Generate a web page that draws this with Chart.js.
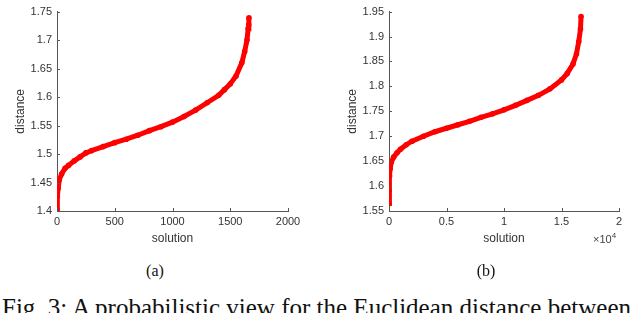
<!DOCTYPE html>
<html>
<head>
<meta charset="utf-8">
<script src="https://cdn.jsdelivr.net/npm/chart.js@4.4.0/dist/chart.umd.min.js"></script>
<style>
  body { margin: 0; background: #fff; width: 640px; height: 313px; overflow: hidden; position: relative; }
  .box { position: absolute; top: 0; height: 250px; }
  .cap { position: absolute; font-family: "Liberation Serif", serif; color: #111; white-space: nowrap; }
</style>
</head>
<body>
<div class="box" style="left:0;width:310px"><canvas id="chartA"></canvas></div>
<div class="box" style="left:320px;width:320px"><canvas id="chartB"></canvas></div>
<div class="cap" style="left:593px;top:231px;font-family:'Liberation Sans',sans-serif;font-size:11px;color:#444">&times;10<sup style="font-size:8px">4</sup></div>
<div class="cap" style="left:130px;width:50px;text-align:center;top:262px;font-size:16px">(a)</div>
<div class="cap" style="left:461px;width:50px;text-align:center;top:262px;font-size:16px">(b)</div>
<div class="cap" style="left:2px;top:294px;font-size:25px">Fig. 3: A probabilistic view for the Euclidean distance between</div>

<script>
// (a) sorted distances
const solA = [0, 3, 10, 20, 40, 70, 100, 150, 200, 250, 300, 400, 500, 600, 700, 800, 900, 1000,
  1100, 1200, 1300, 1400, 1450, 1500, 1550, 1600, 1625, 1645, 1655, 1660, 1662];
const distA = [1.403, 1.425, 1.44, 1.455, 1.465, 1.475, 1.48, 1.488, 1.495, 1.502, 1.506, 1.513, 1.52, 1.526,
  1.533, 1.541, 1.548, 1.556, 1.566, 1.577, 1.59, 1.603, 1.613, 1.623, 1.637, 1.66, 1.68, 1.70, 1.72, 1.727, 1.739];

// (b)
const solB = [0, 20, 50, 100, 200, 400, 700, 1000, 1500, 2000, 3000, 4000, 5000, 6000, 7000, 8000, 9000,
  10000, 11000, 12000, 13000, 14000, 15000, 15500, 16000, 16300, 16500, 16650, 16700];
const distB = [1.565, 1.59, 1.62, 1.635, 1.648, 1.658, 1.667, 1.674, 1.683, 1.69, 1.70, 1.709, 1.716, 1.723,
  1.73, 1.738, 1.745, 1.753, 1.762, 1.772, 1.782, 1.795, 1.813, 1.826, 1.845, 1.865, 1.89, 1.915, 1.94];

const ticksA = { xMax: 2000, xStep: 500, yMin: 1.4, yMax: 1.75, yStep: 0.05 };
const ticksB = { xMax: 20000, xStep: 5000, yMin: 1.55, yMax: 1.95, yStep: 0.05 };

// matlab-like inward ticks
const inwardTicks = {
  id: "inwardTicks",
  afterDraw(chart) {
    const c = chart.ctx, a = chart.chartArea;
    c.save();
    c.strokeStyle = "#555";
    c.lineWidth = 1;
    chart.scales.x.ticks.forEach((t, i) => {
      const px = Math.round(chart.scales.x.getPixelForTick(i)) + 0.5;
      c.beginPath(); c.moveTo(px, a.bottom); c.lineTo(px, a.bottom - 3); c.stroke();
    });
    chart.scales.y.ticks.forEach((t, i) => {
      const py = Math.round(chart.scales.y.getPixelForTick(i)) + 0.5;
      c.beginPath(); c.moveTo(a.left, py); c.lineTo(a.left + 3, py); c.stroke();
    });
    c.restore();
  }
};

function makeChart(id, xs, ys, t, yWidth, titleGap, pad, xFmt) {
  const font = { family: "'Liberation Sans', Arial, sans-serif", size: 11 };
  new Chart(document.getElementById(id), {
    type: "scatter",
    data: {
      datasets: [{
        data: xs.map((x, i) => ({ x: x, y: ys[i] })),
        showLine: true,
        borderColor: "#ff0000",
        borderWidth: 5,
        backgroundColor: "#ff0000",
        pointRadius: 2.8,
        pointBorderWidth: 0,
        tension: 0
      }]
    },
    options: {
      responsive: true,
      maintainAspectRatio: false,
      animation: false,
      layout: { padding: pad },
      plugins: { legend: { display: false }, tooltip: { enabled: false } },
      scales: {
        x: {
          type: "linear", min: 0, max: t.xMax,
          ticks: { stepSize: t.xStep, font: font, color: "#333", padding: 4, maxRotation: 0, callback: xFmt },
          grid: { drawOnChartArea: false, drawTicks: false },
          border: { color: "#555" },
          title: { display: true, text: "solution", font: { family: font.family, size: 12 }, color: "#333", padding: { top: 2 } },
          afterFit(s) { s.height = 39; }
        },
        y: {
          min: t.yMin, max: t.yMax,
          ticks: { stepSize: t.yStep, font: font, color: "#333", padding: 5, callback: v => +v.toFixed(2) },
          grid: { drawOnChartArea: false, drawTicks: false },
          border: { color: "#555" },
          title: { display: true, text: "distance", font: { family: font.family, size: 12 }, color: "#333", padding: { top: titleGap, bottom: 0 } },
          afterFit(s) { s.width = yWidth; }
        }
      }
    },
    plugins: [inwardTicks]
  });
}

makeChart("chartA", solA, distA, ticksA, 57, 13, { top: 7, right: 22, left: 0, bottom: 0 }, v => v);
makeChart("chartB", solB, distB, ticksB, 69, 25, { top: 5, right: 21, left: 0, bottom: 0 }, v => +(v / 10000).toFixed(1));
</script>
</body>
</html>
